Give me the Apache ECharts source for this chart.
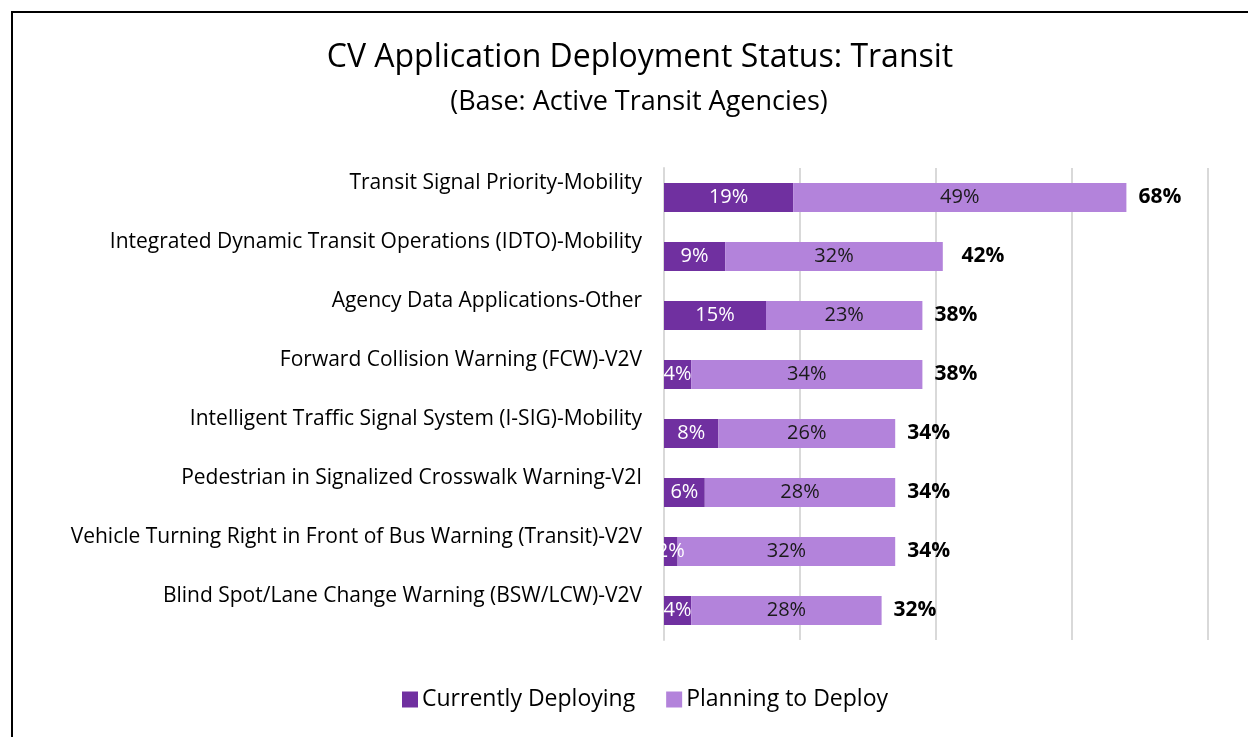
<!DOCTYPE html>
<html>
<head>
<meta charset="utf-8">
<script src="https://cdn.jsdelivr.net/npm/echarts@6/dist/echarts.min.js"></script>
<style>
  html, body { margin: 0; padding: 0; background: #fff; }
  #main { width: 1248px; height: 737px; }
  #frame { position: absolute; left: 11px; top: 11px; width: 1300px; height: 800px;
           border-left: 2px solid #000; border-top: 2px solid #000; pointer-events: none; }
</style>
</head>
<body>
<div id="main"></div>
<div id="frame"></div>
<script>
// categories top to bottom
const categories = [
  'Transit Signal Priority-Mobility',
  'Integrated Dynamic Transit Operations (IDTO)-Mobility',
  'Agency Data Applications-Other',
  'Forward Collision Warning (FCW)-V2V',
  'Intelligent Traffic Signal System (I-SIG)-Mobility',
  'Pedestrian in Signalized Crosswalk Warning-V2I',
  'Vehicle Turning Right in Front of Bus Warning (Transit)-V2V',
  'Blind Spot/Lane Change Warning (BSW/LCW)-V2V'
];
const deploying = [19, 9, 15, 4, 8, 6, 2, 4];
const planning  = [49, 32, 23, 34, 26, 28, 32, 28];
const totals    = [68, 42, 38, 38, 34, 34, 34, 32];

const FONT = 'Open Sans';
const chart = echarts.init(document.getElementById('main'));

chart.setOption({
  animation: false,
  textStyle: { fontFamily: FONT },
  title: [
    { text: 'CV Application Deployment Status: Transit', left: 635, top: 37, textAlign: 'center',
      textStyle: { fontFamily: FONT, fontSize: 32, fontWeight: 'normal', color: '#000' } },
    { text: '(Base: Active Transit Agencies)', left: 634, top: 84, textAlign: 'center',
      textStyle: { fontFamily: FONT, fontSize: 27, fontWeight: 'normal', color: '#000' } }
  ],
  legend: {
    data: ['Currently Deploying', 'Planning to Deploy'],
    left: 397, top: 683,
    icon: 'rect', itemWidth: 16, itemHeight: 16, itemGap: 31,
    textStyle: { fontFamily: FONT, fontSize: 23, color: '#000', padding: [0, 0, 0, -1] }
  },
  grid: { left: 664, right: 40, top: 168, bottom: 97, containLabel: false },
  xAxis: {
    type: 'value', min: 0, max: 80, interval: 20,
    axisLine: { show: false }, axisTick: { show: false }, axisLabel: { show: false },
    splitLine: { lineStyle: { color: '#d9d9d9', width: 2 } }
  },
  yAxis: {
    type: 'category', inverse: true, data: categories,
    axisLine: { lineStyle: { color: '#d9d9d9', width: 2 } },
    axisTick: { length: 6, lineStyle: { color: '#d9d9d9', width: 2 } },
    axisLabel: { color: '#000', fontSize: 21, fontFamily: FONT, margin: 22, lineHeight: 29,
                 formatter: v => v + '\n ' }
  },
  series: [
    {
      name: 'Currently Deploying', type: 'bar', stack: 'a', data: deploying,
      barWidth: 29, itemStyle: { color: '#7030A0' },
      label: { show: true, position: 'inside', color: '#fff', fontSize: 20, fontFamily: FONT,
               formatter: p => p.value + '%' }
    },
    {
      name: 'Planning to Deploy', type: 'bar', stack: 'a', data: planning,
      barWidth: 29, itemStyle: { color: '#B383DB' },
      label: { show: true, position: 'inside', color: '#1a1a1a', fontSize: 20, fontFamily: FONT,
               formatter: p => p.value + '%' }
    },
    {
      name: 'Total', type: 'bar', data: totals, barWidth: 29, barGap: '-100%', z: 1,
      itemStyle: { color: 'rgba(0,0,0,0)' }, silent: true,
      label: { show: true, position: 'right', distance: 12, color: '#000', fontSize: 21,
               fontWeight: 'bold', fontFamily: FONT, formatter: p => p.value + '%' }
    }
  ]
});
</script>
</body>
</html>
